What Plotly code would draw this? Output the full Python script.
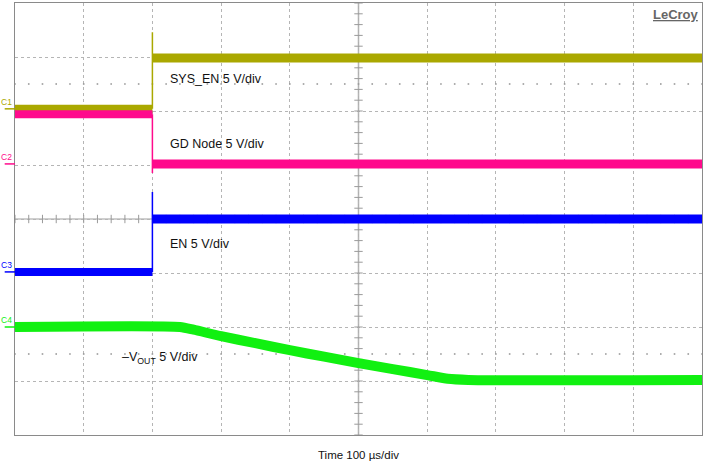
import numpy as np
import plotly.graph_objects as go

# ---- data (time in µs, vertical position in screen divisions) ----
edge_time = -300
t_start, t_end = -500, 500

ch1_levels = [2.04, 3.46, 2.98]   # before edge, spike, after edge
ch2_levels = [1.94, 0.85, 1.02]
ch3_levels = [-0.98, 0.50, 0.0]

ch4_time = [-500, -260, -240, -200, -150, -100, -50, 0, 50, 100, 130, 160, 500]
ch4_vals = [-2.0, -2.0, -2.05, -2.17, -2.30, -2.43, -2.55, -2.67, -2.78, -2.89, -2.96, -2.98, -2.98]

channel_names = ["C1", "C2", "C3", "C4"]
channel_colors = ["#aaa800", "#ff0a8c", "#0000ff", "#11f011"]
channel_ground = [2.04, 1.02, -0.98, -2.0]

labels = ["SYS_EN 5 V/div", "GD Node 5 V/div", "EN 5 V/div", "\u2013V<sub>OUT</sub> 5 V/div"]
label_x = [-277, -277, -277, -347]
label_y = [2.59, 1.39, -0.46, -2.58]
time_label = "Time 100 \u00b5s/div"

FONT = "Arial, Liberation Sans, Helvetica, sans-serif"

fig = go.Figure()

# graticule: sparse dotted rows and center-line ticks
minor_x = np.arange(-500, 501, 20)
minor_y = np.arange(-4, 4.01, 0.2)
for yy in (2.5, -2.5):
    fig.add_trace(go.Scatter(x=minor_x, y=[yy] * len(minor_x), mode="markers",
                             marker=dict(symbol="square", size=1.6, color="#999999"),
                             hoverinfo="skip", showlegend=False))
fig.add_trace(go.Scatter(x=minor_x, y=[0] * len(minor_x), mode="markers",
                         marker=dict(symbol="line-ns-open", size=6, color="#9a9a9a",
                                     line=dict(color="#9a9a9a", width=1)),
                         hoverinfo="skip", showlegend=False))
fig.add_trace(go.Scatter(x=[0] * len(minor_y), y=minor_y, mode="markers",
                         marker=dict(symbol="line-ew-open", size=6, color="#9a9a9a",
                                     line=dict(color="#9a9a9a", width=1)),
                         hoverinfo="skip", showlegend=False))

# step channels
for levels, color in zip([ch1_levels, ch2_levels, ch3_levels], channel_colors[:3]):
    pre, spike, post = levels
    fig.add_trace(go.Scatter(x=[t_start, edge_time], y=[pre, pre], mode="lines",
                             line=dict(color=color, width=8), hoverinfo="skip", showlegend=False))
    fig.add_trace(go.Scatter(x=[edge_time, t_end], y=[post, post], mode="lines",
                             line=dict(color=color, width=9), hoverinfo="skip", showlegend=False))
    fig.add_trace(go.Scatter(x=[edge_time, edge_time, edge_time], y=[pre, spike, post], mode="lines",
                             line=dict(color=color, width=1.5), hoverinfo="skip", showlegend=False))

# channel 4
fig.add_trace(go.Scatter(x=ch4_time, y=ch4_vals, mode="lines",
                         line=dict(color=channel_colors[3], width=10, shape="spline", smoothing=0.6),
                         hoverinfo="skip", showlegend=False))

# center lines
fig.add_shape(type="line", xref="x", yref="y", x0=0, x1=0, y0=-4, y1=4, layer="below",
              line=dict(color="#b0b0b0", width=1.5))
fig.add_shape(type="line", xref="x", yref="y", x0=-500, x1=500, y0=0, y1=0, layer="below",
              line=dict(color="#a0a0a0", width=1.2))

# channel ground markers
for name, color, g in zip(channel_names, channel_colors, channel_ground):
    fig.add_annotation(x=-0.003, y=g, xref="paper", yref="y", text=name, showarrow=False,
                       xanchor="right", yanchor="bottom", yshift=1, borderpad=0,
                       font=dict(family=FONT, size=8.5, color=color))
    fig.add_shape(type="line", xref="paper", yref="y", x0=-0.015, x1=0.0, y0=g, y1=g,
                  line=dict(color=color, width=1.5))

# trace labels
for txt, lx, ly in zip(labels, label_x, label_y):
    fig.add_annotation(x=lx, y=ly, xref="x", yref="y", text=txt, showarrow=False,
                       xanchor="left", yanchor="middle", font=dict(family=FONT, size=12.5, color="#111111"))

fig.add_annotation(x=0.5, y=-0.028, xref="paper", yref="paper", text=time_label, showarrow=False,
                   xanchor="center", yanchor="top", font=dict(family=FONT, size=11.5, color="#111111"))
fig.add_annotation(x=0.998, y=0.995, xref="paper", yref="paper", text="<b><u>LeCroy</u></b>", showarrow=False,
                   xanchor="right", yanchor="top", bgcolor="white",
                   font=dict(family=FONT, size=13, color="#666666"))

fig.update_layout(
    width=704, height=466,
    margin=dict(l=15, r=2, t=3, b=31),
    paper_bgcolor="white", plot_bgcolor="white",
    xaxis=dict(range=[-500, 500], dtick=100, tick0=-500, showticklabels=False, ticks="",
               showgrid=True, gridcolor="#b5b5b5", griddash="dot", gridwidth=1,
               zeroline=False, showline=True, mirror=True, linecolor="#8a8a8a", linewidth=1, fixedrange=True),
    yaxis=dict(range=[-4, 4], dtick=1, tick0=-4, showticklabels=False, ticks="",
               showgrid=True, gridcolor="#b5b5b5", griddash="dot", gridwidth=1,
               zeroline=False, showline=True, mirror=True, linecolor="#8a8a8a", linewidth=1, fixedrange=True),
)

fig.write_html("out.html", config={"displayModeBar": False},
               post_script="document.body.style.margin='0';document.body.style.overflow='hidden';")
